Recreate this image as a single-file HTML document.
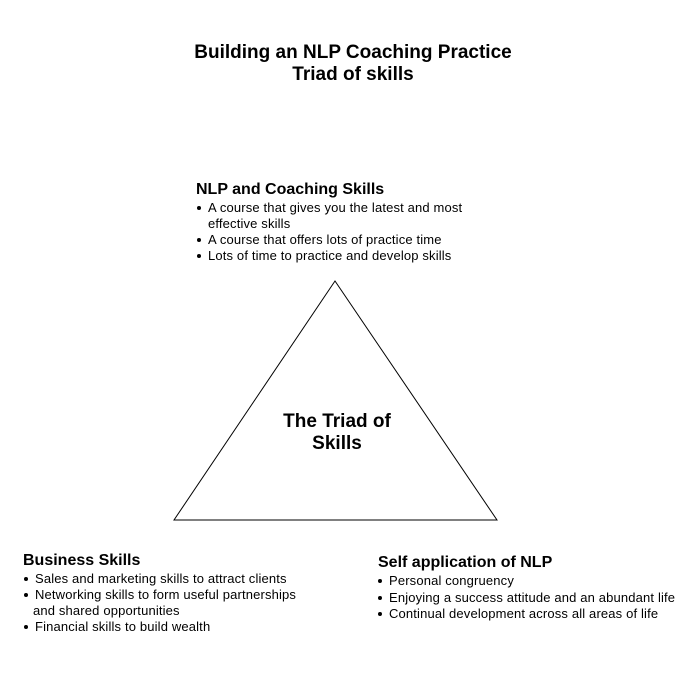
<!DOCTYPE html>
<html><head><style>
body{margin:0;width:690px;height:685px;background:#fff;position:relative;font-family:"Liberation Sans",Arial,sans-serif;color:#000;overflow:hidden}
.a{position:absolute;white-space:nowrap}
.t{font-weight:bold;font-size:19px;width:690px;text-align:center;left:0;line-height:22px}
.h{font-weight:bold;font-size:16px;line-height:18px}
.b{font-size:13px;line-height:16px;letter-spacing:0.15px}
.d{position:absolute;width:4px;height:4px;background:#000;border-radius:50%}
</style></head><body>
<div class="a t" style="top:42px;left:8px">Building an NLP Coaching Practice</div>
<div class="a t" style="top:64px;left:8px">Triad of skills</div>

<div class="a h" style="left:196px;top:181px">NLP and Coaching Skills</div>
<div class="a b" style="left:208px;top:200px">A course that gives you the latest and most</div>
<div class="a b" style="left:208px;top:216px">effective skills</div>
<div class="a b" style="left:208px;top:232px">A course that offers lots of practice time</div>
<div class="a b" style="left:208px;top:248px">Lots of time to practice and develop skills</div>
<div class="d" style="left:197px;top:206px"></div>
<div class="d" style="left:197px;top:238px"></div>
<div class="d" style="left:197px;top:254px"></div>

<svg class="a" style="left:0;top:0" width="690" height="685"><polygon points="335,281 174,520 497,520" fill="none" stroke="#000" stroke-width="1"/></svg>
<div class="a" style="left:237px;top:411px;width:200px;text-align:center;font-weight:bold;font-size:19px;line-height:22px">The Triad of<br>Skills</div>

<div class="a h" style="left:23px;top:552px">Business Skills</div>
<div class="a b" style="left:35px;top:571px">Sales and marketing skills to attract clients</div>
<div class="a b" style="left:35px;top:587px">Networking skills to form useful partnerships</div>
<div class="a b" style="left:33px;top:603px">and shared opportunities</div>
<div class="a b" style="left:35px;top:619px">Financial skills to build wealth</div>
<div class="d" style="left:24px;top:577px"></div>
<div class="d" style="left:24px;top:593px"></div>
<div class="d" style="left:24px;top:625px"></div>

<div class="a h" style="left:378px;top:554px">Self application of NLP</div>
<div class="a b" style="left:389px;top:573px">Personal congruency</div>
<div class="a b" style="left:389px;top:590px">Enjoying a success attitude and an abundant life</div>
<div class="a b" style="left:389px;top:606px">Continual development across all areas of life</div>
<div class="d" style="left:378px;top:579px"></div>
<div class="d" style="left:378px;top:596px"></div>
<div class="d" style="left:378px;top:612px"></div>
</body></html>
